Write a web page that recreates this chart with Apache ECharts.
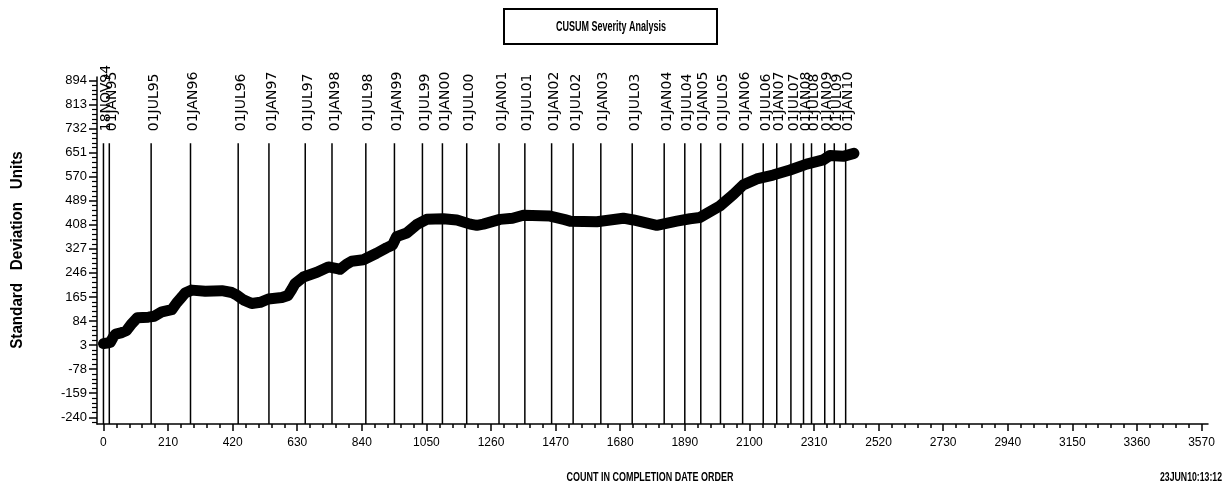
<!DOCTYPE html>
<html><head><meta charset="utf-8">
<script src="https://cdn.jsdelivr.net/npm/echarts@6/dist/echarts.min.js"></script>
<style>html,body{margin:0;padding:0;background:#fff}#c{width:1225px;height:487px}</style>
</head><body><div id="c"></div>
<script>
// CUSUM curve (count in completion date order -> standard deviation units)
const countX = [0,12,22,32,40,60,75,92,110,146,165,190,222,238,255,265,287,331,385,417,435,455,482,510,536,580,600,612,623,650,694,731,760,769,790,807,845,888,920,940,953,986,1018,1051,1105,1149,1192,1214,1235,1289,1330,1365,1452,1500,1517,1604,1690,1723,1799,1864,1907,1939,1960,2004,2048,2080,2124,2177,2232,2286,2340,2362,2405,2440];
const cusumY = [8,10,12,30,40,45,52,75,95,97,100,115,122,145,165,178,188,184,186,180,170,155,143,147,158,163,170,190,210,232,248,266,260,258,275,285,290,312,330,340,368,380,408,426,428,424,410,406,410,426,430,440,437,425,420,418,430,424,406,420,428,432,445,471,510,542,562,575,592,612,626,641,638,648];
// date reference lines
const refLabels = ['18NOV94','01JAN95','01JUL95','01JAN96','01JUL96','01JAN97','01JUL97','01JAN98','01JUL98','01JAN99','01JUL99','01JAN00','01JUL00','01JAN01','01JUL01','01JAN02','01JUL02','01JAN03','01JUL03','01JAN04','01JUL04','01JAN05','01JUL05','01JAN06','01JUL06','01JAN07','01JUL07','01JAN08','01JUL08','01JAN09','01JUL09','01JAN10'];
const refCounts = [0,19,155,283,438,538,656,743,853,946,1037,1102,1181,1286,1370,1457,1527,1617,1719,1823,1890,1942,2006,2078,2145,2189,2235,2276,2302,2345,2376,2413];
const refTop = 682;
// axes
const xTicks = [0,210,420,630,840,1050,1260,1470,1680,1890,2100,2310,2520,2730,2940,3150,3360,3570];
const yTicks = [-240,-159,-78,3,84,165,246,327,408,489,570,651,732,813,894];
const xMin = -21, xMax = 3591, yMin = -262.5, yMax = 905;

const xMinor = [], yMinor = [];
for (let i = 0; i < xTicks.length; i++) for (let k = 1; k < 5; k++) { const v = xTicks[i] + k * 42; if (v < xMax) xMinor.push(v); }
for (let i = 0; i < yTicks.length; i++) for (let k = -1; k < 5; k++) { if (k === 0) continue; const v = yTicks[i] + k * 16.2; if (v > yMin && v < yMax && (k > 0 || i === 0)) yMinor.push(v); }

const FONT = "'Liberation Sans', Arial, sans-serif";
const fmt = v => String(Math.round(v));

const chart = echarts.init(document.getElementById('c'));
const baseX = { type: 'value', min: xMin, max: xMax, gridIndex: 0, position: 'bottom' };
const baseY = { type: 'value', min: yMin, max: yMax, gridIndex: 0, position: 'left' };
chart.setOption({
  animation: false,
  backgroundColor: '#fff',
  grid: { left: 97, right: 17, top: 77, bottom: 63 },
  xAxis: [
    Object.assign({}, baseX, {
      axisLine: { show: true, onZero: false, lineStyle: { color: '#000', width: 1.5 } },
      axisTick: { show: true, length: 7, lineStyle: { color: '#000', width: 1.5 }, customValues: xTicks },
      axisLabel: { customValues: xTicks, formatter: fmt, color: '#000', fontFamily: FONT, fontSize: 12, margin: 13 },
      splitLine: { show: false }
    }),
    Object.assign({}, baseX, {
      axisLine: { show: false, onZero: false },
      axisTick: { show: true, length: 4, lineStyle: { color: '#000', width: 1.5 }, customValues: xMinor },
      axisLabel: { show: false }, splitLine: { show: false }
    })
  ],
  yAxis: [
    Object.assign({}, baseY, {
      axisLine: { show: true, onZero: false, lineStyle: { color: '#000', width: 1.5 } },
      axisTick: { show: true, length: 8, lineStyle: { color: '#000', width: 1.5 }, customValues: yTicks },
      axisLabel: { customValues: yTicks, formatter: fmt, color: '#000', fontFamily: FONT, fontSize: 13, margin: 10 },
      splitLine: { show: false }
    }),
    Object.assign({}, baseY, {
      axisLine: { show: false, onZero: false },
      axisTick: { show: true, length: 5, lineStyle: { color: '#000', width: 1.2 }, customValues: yMinor },
      axisLabel: { show: false }, splitLine: { show: false }
    })
  ],
  graphic: [
    { type: 'rect', shape: { x: 504, y: 9, width: 213, height: 35 }, style: { fill: '#fff', stroke: '#000', lineWidth: 2 } },
    { type: 'text', x: 611, y: 27, scaleX: 0.6, style: { text: 'CUSUM Severity Analysis', font: "bold 15px " + FONT, fill: '#000', align: 'center', verticalAlign: 'middle' } },
    { type: 'text', x: 650, y: 477, scaleX: 0.69, style: { text: 'COUNT IN COMPLETION DATE ORDER', font: "bold 13px " + FONT, fill: '#000', align: 'center', verticalAlign: 'middle' } },
    { type: 'text', x: 1222, y: 477, scaleX: 0.67, style: { text: '23JUN10:13:12', font: "bold 13px " + FONT, fill: '#000', align: 'right', verticalAlign: 'middle' } },
    { type: 'text', x: 18, y: 250, rotation: Math.PI / 2, scaleX: 0.95, style: { text: 'Standard   Deviation   Units', font: "bold 16px " + FONT, fill: '#000', align: 'center', verticalAlign: 'middle' } }
  ],
  series: [
    {
      type: 'custom', xAxisIndex: 0, yAxisIndex: 0, clip: false, z: 1,
      data: refCounts.map((c, i) => [c, i]),
      renderItem: function (params, api) {
        const x = api.value(0);
        const p0 = api.coord([x, yMin]);
        const p1 = api.coord([x, refTop]);
        return { type: 'group', children: [
          { type: 'line', shape: { x1: p0[0], y1: p0[1], x2: p1[0], y2: p1[1] }, style: { stroke: '#000', lineWidth: 1.5 } },
          { type: 'text', x: p0[0] + 3, y: p1[1] - 12, rotation: Math.PI / 2,
            style: { text: refLabels[api.value(1)], font: "14px 'DejaVu Sans', sans-serif", fill: '#000', align: 'left', verticalAlign: 'middle' } }
        ] };
      }
    },
    {
      type: 'line', xAxisIndex: 0, yAxisIndex: 0, z: 3,
      data: countX.map((x, i) => [x, cusumY[i]]),
      symbol: 'none', smooth: false,
      lineStyle: { color: '#000', width: 11, cap: 'round', join: 'round' }
    }
  ]
});
</script>
</body></html>
